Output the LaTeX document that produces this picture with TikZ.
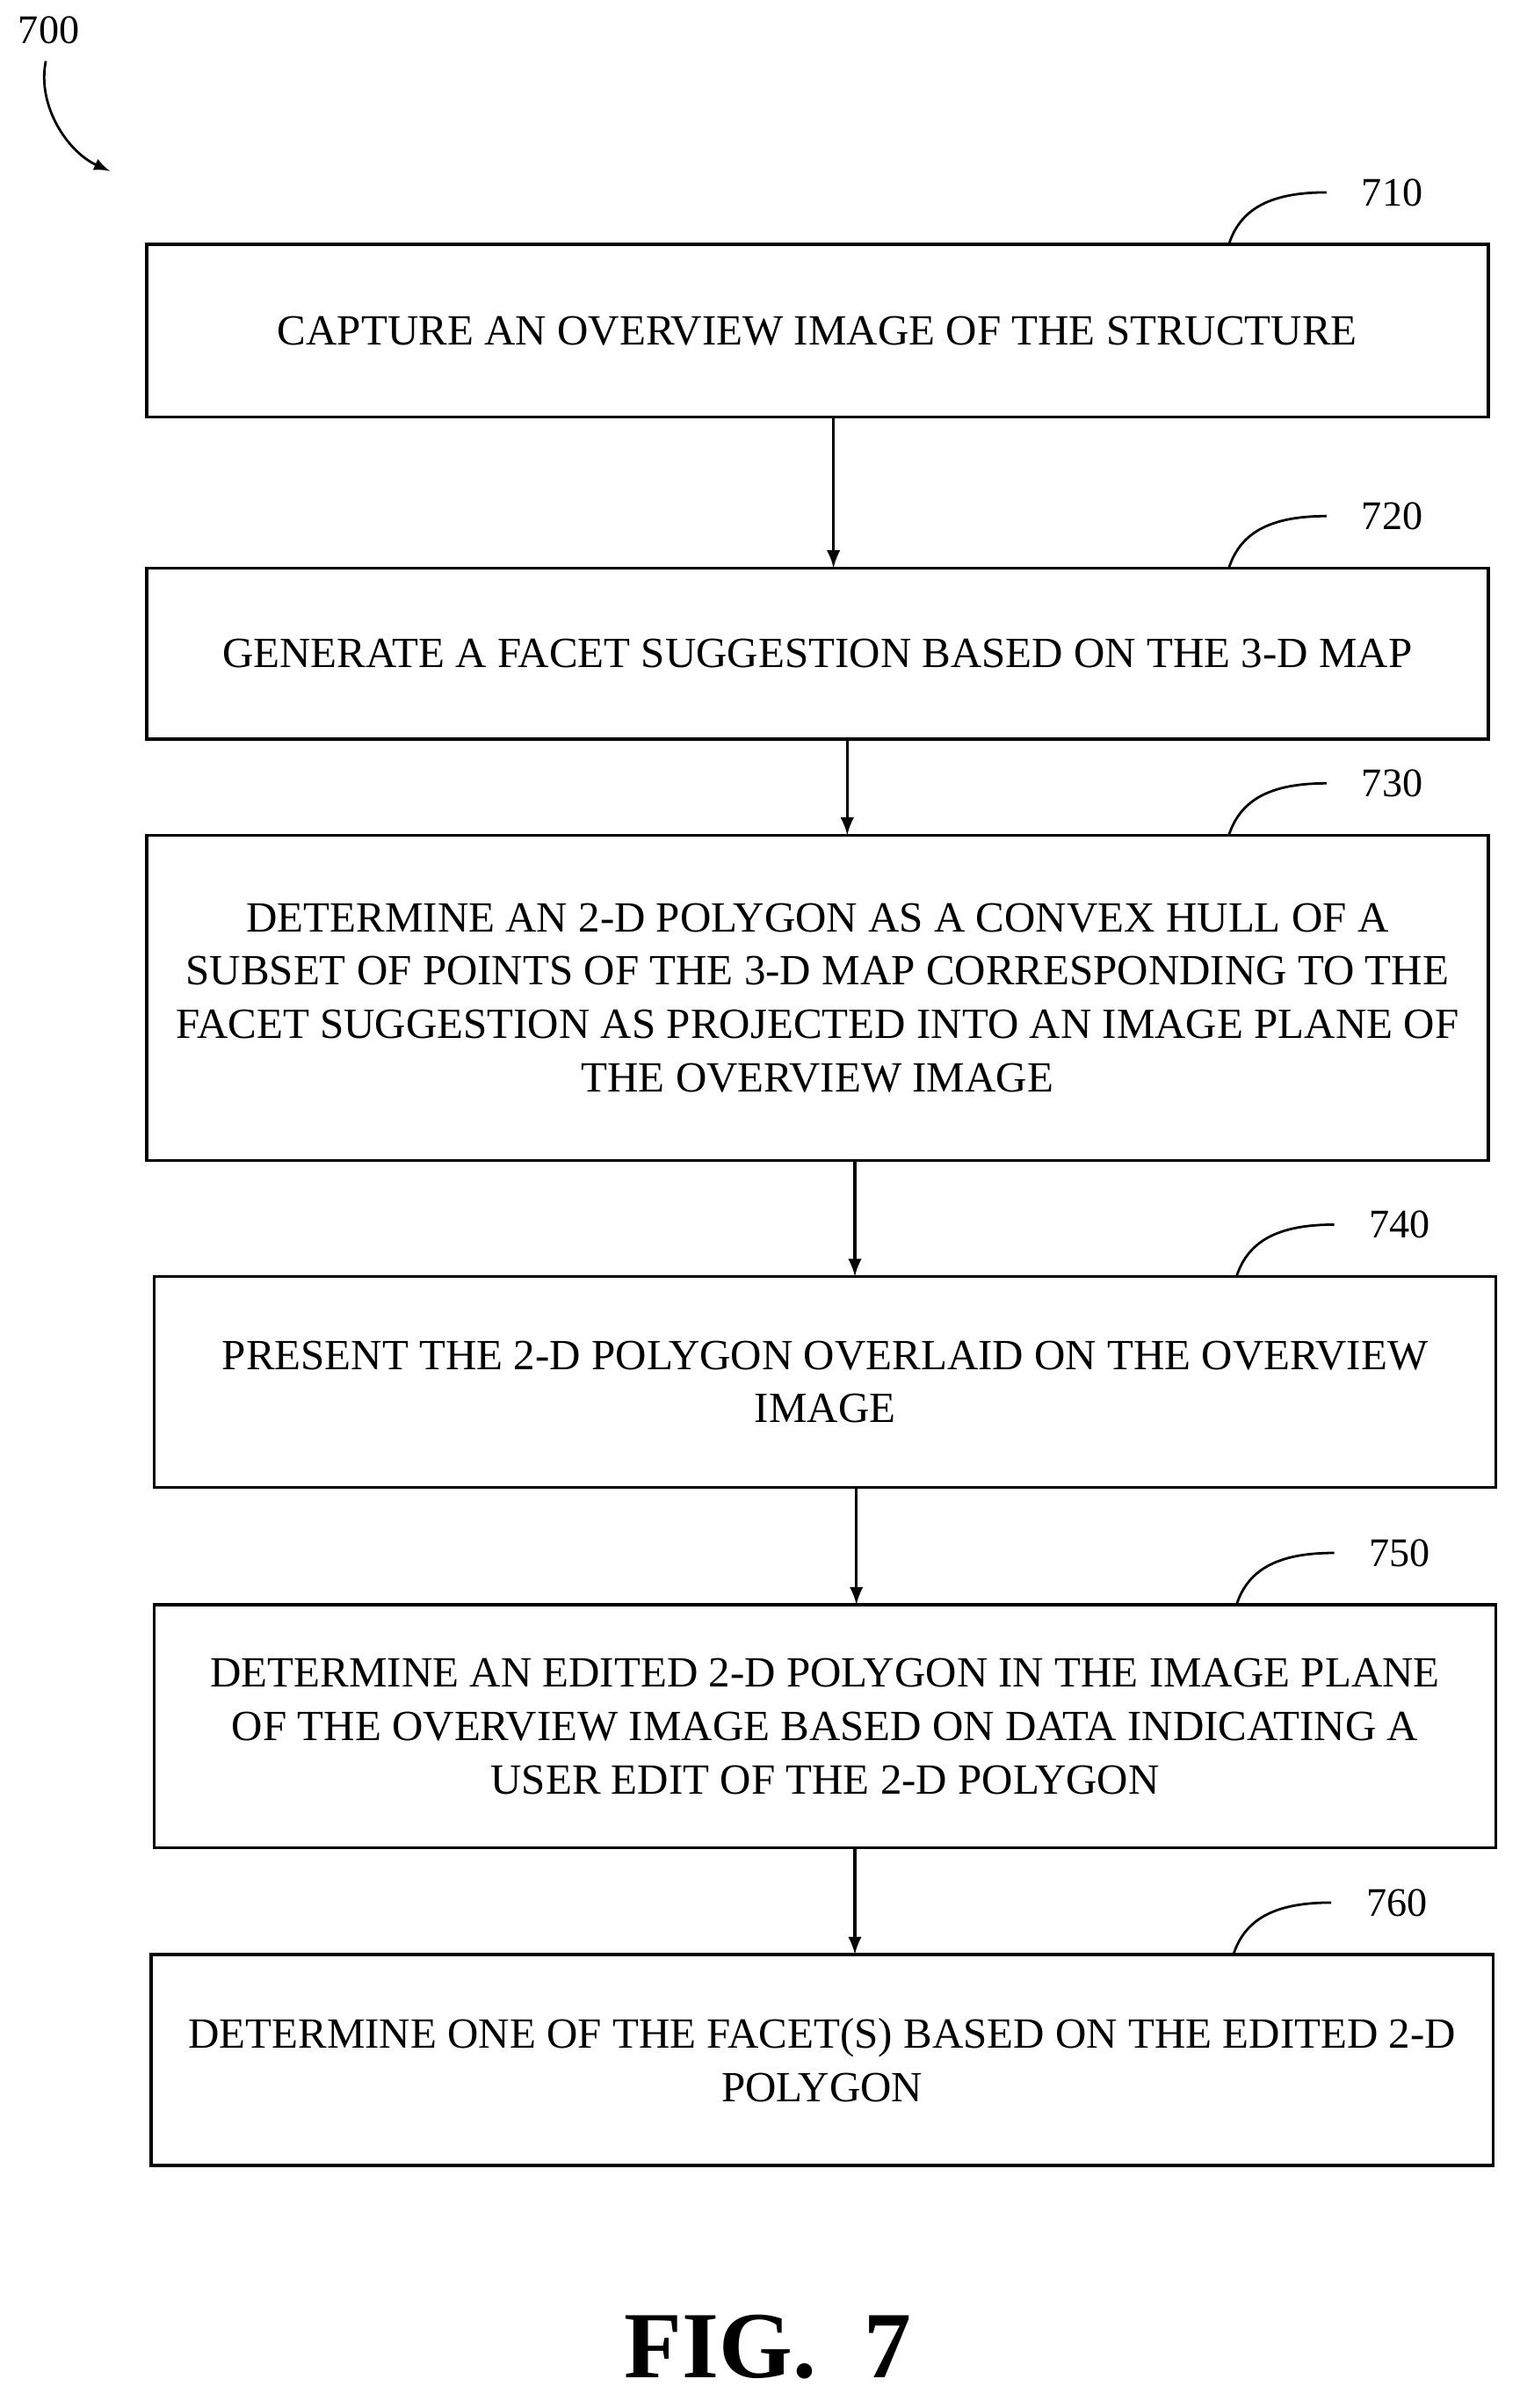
\documentclass[tikz,border=0pt]{standalone}
\usepackage{fontspec}
\setmainfont{Liberation Serif}
\begin{document}
\begin{tikzpicture}[x=0.5pt,y=-0.5pt,
  box/.style={align=center,font=\fontsize{14.1}{17.5}\selectfont,inner sep=0pt},
  arr/.style={-latex,line width=1pt},
  lbl/.style={font=\fontsize{13.3}{16}\selectfont},
  lead/.style={line width=0.8pt}]
\useasboundingbox (0,0) rectangle (1000,1577);
\newcommand{\stepbox}[6]{% name x1 y1 x2 y2 text
  \draw[line width=1pt] (#2,#3) rectangle (#4,#5);
  \node[box] (#1) at ({(#2+#4)/2},{(#3+#5)/2}) {#6};
}
\stepbox{a}{96}{160}{975}{273}{CAPTURE AN OVERVIEW IMAGE OF THE STRUCTURE}
\stepbox{b}{96}{372}{975}{484}{GENERATE A FACET SUGGESTION BASED ON THE 3-D MAP}
\stepbox{c}{96}{547}{975}{760}{DETERMINE AN 2-D POLYGON AS A CONVEX HULL OF A\\ SUBSET OF POINTS OF THE 3-D MAP CORRESPONDING TO THE\\ FACET SUGGESTION AS PROJECTED INTO AN IMAGE PLANE OF\\ THE OVERVIEW IMAGE}
\stepbox{d}{101}{836}{980}{974}{PRESENT THE 2-D POLYGON OVERLAID ON THE OVERVIEW\\ IMAGE}
\stepbox{e}{101}{1051}{980}{1210}{DETERMINE AN EDITED 2-D POLYGON IN THE IMAGE PLANE\\ OF THE OVERVIEW IMAGE BASED ON DATA INDICATING A\\ USER EDIT OF THE 2-D POLYGON}
\stepbox{f}{99}{1280}{978}{1418}{DETERMINE ONE OF THE FACET(S) BASED ON THE EDITED 2-D\\ POLYGON}
\coordinate (a1) at (546,273); \coordinate (b0) at (546,372);
\coordinate (b1) at (555,484); \coordinate (c0) at (555,547);
\coordinate (c1) at (560,760); \coordinate (d0) at (560,836);
\coordinate (d1) at (561,974); \coordinate (e0) at (561,1051);
\coordinate (e1) at (560,1210); \coordinate (f0) at (560,1280);
\draw[arr] (a1) -- (b0);
\draw[arr] (b1) -- (c0);
\draw[arr] (c1) -- (d0);
\draw[arr] (d1) -- (e0);
\draw[arr] (e1) -- (f0);
\foreach \n/\x/\y in {710/805/160,720/805/372,730/805/547,740/810/836,750/810/1051,760/808/1280}{
  \node[lbl,anchor=west] (L\n) at (\x+80,\y-34) {\n};
  \draw[lead] (\x,\y) .. controls (\x+8,\y-25) and (\x+30,\y-34) .. (\x+64,\y-34);
}
\node[lbl] (L700) at (32,20) {700};
\coordinate (t700) at (72,112);
\draw[lead,-latex] (30,40) .. controls (24,70) and (45,100) .. (t700);
\node[font=\fontsize{31}{31}\bfseries\selectfont] (fig) at (503,1537) {FIG.\ \ 7};
\end{tikzpicture}
\end{document}
